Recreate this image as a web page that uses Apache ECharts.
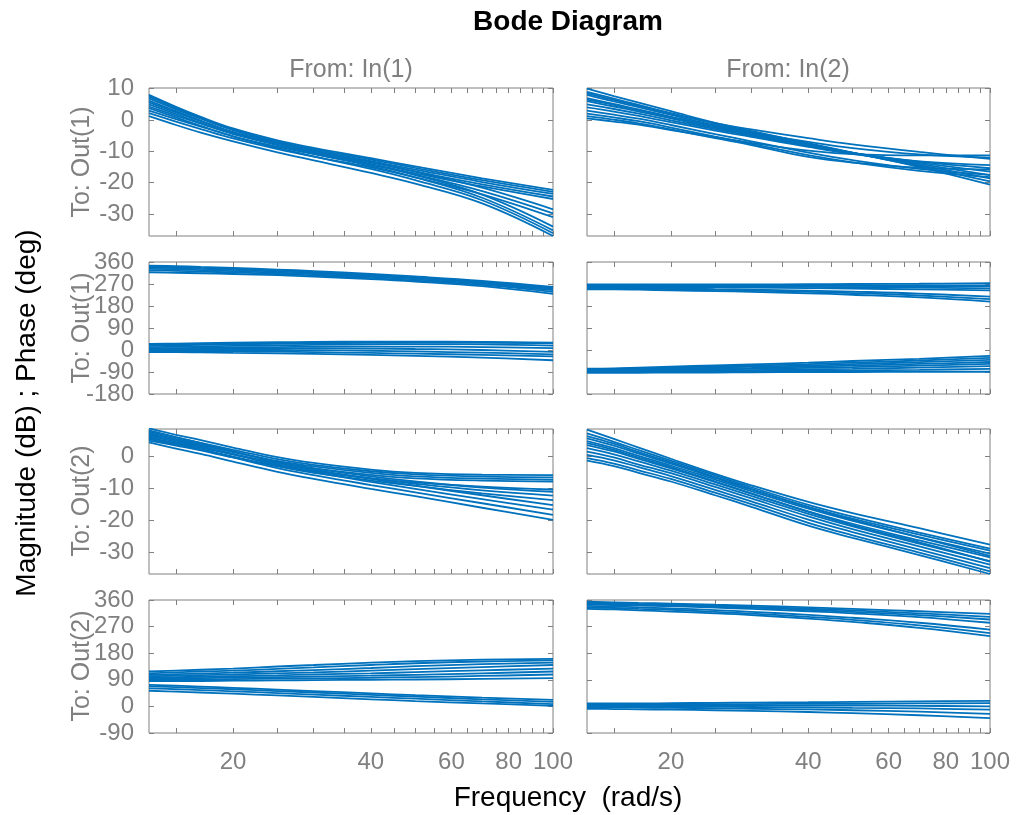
<!DOCTYPE html>
<html><head><meta charset="utf-8">
<script src="https://cdn.jsdelivr.net/npm/echarts@6/dist/echarts.min.js"></script>
<style>html,body{margin:0;padding:0;background:#fff}#c{width:1016px;height:815px}</style>
</head><body><div id="c"></div><script>
// ---------------- data ----------------
const FREQ = [13.1, 15, 17, 20, 25, 30, 40, 50, 70, 100];          // rad/s
const X_MIN = 13.1, X_MAX = 100;
const X_TICKS = [15,20,25,30,35,40,45,50,55,60,65,70,75,80,85,90,95,100];
const X_LABELS = [20, 40, 60, 80, 100];
const MAG_TICKS_OUT1 = [10, 0, -10, -20, -30];
const MAG_TICKS_OUT2 = [0, -10, -20, -30];
const PH_TICKS_OUT1 = [360, 270, 180, 90, 0, -90, -180];
const PH_TICKS_OUT2 = [360, 270, 180, 90, 0, -90];

// Out(1) <- In(1), magnitude (dB)
const magOut1In1 = [
  [8.0, 4.2, 1.0, -2.7, -6.5, -8.9, -12.2, -14.8, -18.6, -22.3],
  [6.9, 3.4, 0.4, -3.2, -6.9, -9.3, -12.6, -15.3, -19.2, -22.9],
  [5.6, 2.4, -0.4, -3.9, -7.4, -9.8, -13.1, -15.8, -19.8, -23.6],
  [4.3, 1.4, -1.2, -4.5, -7.9, -10.3, -13.6, -16.4, -20.5, -24.4],
  [3.0, 0.3, -2.1, -5.2, -8.5, -10.9, -14.2, -17.0, -21.2, -25.2],
  [7.4, 3.8, 0.6, -3.1, -7.1, -9.7, -13.3, -16.5, -21.6, -28.5],
  [5.0, 1.9, -0.9, -4.3, -8.0, -10.6, -14.2, -17.4, -22.7, -29.8],
  [2.2, -0.5, -2.9, -5.9, -9.3, -11.7, -15.1, -18.3, -23.7, -31.0],
  [7.8, 4.0, 0.7, -3.1, -7.3, -10.1, -14.1, -17.6, -23.8, -34.0],
  [6.2, 2.8, -0.2, -3.9, -7.9, -10.7, -14.7, -18.3, -24.8, -35.2],
  [3.8, 0.8, -1.9, -5.2, -8.9, -11.6, -15.6, -19.2, -25.6, -36.1],
  [1.2, -1.6, -4.0, -6.8, -10.3, -12.9, -16.9, -20.3, -26.6, -37.0]
];
// Out(1) <- In(2), magnitude (dB)
const magOut1In2 = [
  [10.0, 7.6, 5.5, 2.8, -0.9, -3.5, -7.4, -10.4, -15.0, -20.6],
  [9.0, 6.8, 4.8, 2.2, -1.3, -3.8, -7.6, -10.5, -14.7, -19.6],
  [8.0, 5.9, 4.1, 1.6, -1.7, -4.1, -7.8, -10.5, -14.4, -18.6],
  [7.0, 5.1, 3.4, 1.0, -2.1, -4.4, -7.9, -10.5, -14.0, -17.6],
  [6.0, 4.3, 2.7, 0.5, -2.5, -4.7, -8.1, -10.5, -13.6, -16.5],
  [5.0, 3.5, 2.0, -0.1, -2.9, -5.0, -8.3, -10.6, -13.3, -15.4],
  [4.0, 2.7, 1.3, -0.7, -3.4, -5.4, -8.6, -10.8, -13.2, -14.4],
  [3.0, 1.7, 0.4, -1.6, -4.5, -6.8, -10.4, -12.8, -15.6, -17.5],
  [2.0, 0.8, -0.4, -2.4, -5.3, -7.6, -11.2, -13.5, -16.2, -18.2],
  [1.2, 0.1, -1.1, -3.0, -5.8, -8.0, -11.8, -13.6, -15.2, -15.8],
  [0.5, -0.5, -1.5, -3.2, -5.5, -7.3, -9.8, -10.9, -11.3, -11.3],
  [8.5, 6.4, 4.5, 2.0, -1.0, -3.0, -5.8, -7.8, -10.2, -12.4],
  [6.5, 4.8, 3.1, 0.9, -2.0, -4.0, -7.0, -9.0, -11.0, -12.0]
];
// Out(1) <- In(1), phase (deg)
const phOut1In1 = [
  [345, 343, 340, 336, 329, 323, 311, 301, 283, 258],
  [341, 339, 336, 332, 325, 319, 307, 297, 279, 254],
  [337, 335, 332, 328, 321, 315, 303, 293, 276, 250],
  [332, 330, 327, 323, 316, 310, 299, 289, 271, 245],
  [326, 324, 321, 317, 311, 305, 294, 284, 266, 238],
  [318, 316, 314, 311, 306, 300, 290, 280, 261, 230],
  [25, 26, 28, 30, 32, 33, 34, 34, 33, 30],
  [21, 22, 24, 26, 28, 30, 32, 32, 31, 27],
  [18, 19, 21, 23, 25, 27, 29, 30, 30, 28],
  [12, 13, 15, 17, 19, 21, 23, 24, 23, 18],
  [8, 8, 9, 11, 12, 13, 14, 14, 12, 8],
  [4, 4, 5, 6, 7, 7, 6, 4, 0, -8],
  [0, 0, 0, 0, 0, -1, -3, -6, -11, -18],
  [-5, -5, -5, -6, -7, -9, -12, -15, -20, -26],
  [-9, -9, -10, -12, -14, -16, -20, -24, -31, -42]
];
// Out(1) <- In(2), phase (deg)
const phOut1In2 = [
  [268, 268, 268, 268, 268, 268, 269, 270, 271, 273],
  [265, 265, 265, 265, 264, 264, 264, 264, 264, 264],
  [263, 263, 263, 263, 262, 262, 262, 262, 261, 260],
  [262, 262, 262, 261, 260, 259, 258, 257, 255, 252],
  [258, 258, 258, 257, 256, 255, 253, 251, 248, 244],
  [255, 255, 254, 252, 249, 247, 243, 239, 231, 218],
  [252, 252, 251, 249, 246, 243, 238, 233, 223, 208],
  [248, 248, 247, 244, 241, 238, 232, 226, 215, 198],
  [-76, -75, -72, -68, -63, -59, -52, -45, -36, -24],
  [-78, -77, -75, -72, -67, -64, -58, -52, -43, -32],
  [-80, -79, -77, -75, -71, -68, -63, -58, -50, -40],
  [-82, -81, -80, -78, -75, -73, -68, -64, -57, -49],
  [-84, -83, -82, -81, -79, -77, -73, -70, -64, -57],
  [-87, -86, -86, -85, -83, -82, -79, -77, -72, -66],
  [-90, -89, -89, -88, -88, -87, -85, -84, -81, -77],
  [-93, -93, -93, -92, -92, -91, -90, -90, -89, -89]
];
// Out(2) <- In(1), magnitude (dB)
const magOut2In1 = [
  [8.6, 6.6, 4.9, 2.6, -0.4, -2.2, -4.3, -5.3, -5.9, -6.0],
  [7.6, 5.8, 4.1, 1.9, -1.0, -2.8, -4.8, -5.8, -6.5, -6.7],
  [6.6, 4.9, 3.3, 1.2, -1.6, -3.3, -5.3, -6.4, -7.1, -7.4],
  [5.6, 4.0, 2.5, 0.5, -2.2, -3.9, -5.9, -7.0, -7.7, -8.0],
  [4.8, 3.2, 1.7, -0.5, -3.1, -4.9, -7.0, -8.3, -9.6, -10.5],
  [7.2, 5.3, 3.6, 1.3, -1.9, -3.9, -6.4, -8.0, -9.9, -11.2],
  [6.2, 4.4, 2.8, 0.6, -2.6, -4.6, -7.0, -8.7, -10.8, -12.4],
  [5.2, 3.5, 2.0, -0.2, -3.3, -5.3, -7.7, -9.4, -11.7, -13.8],
  [8.0, 5.9, 4.0, 1.5, -2.0, -4.3, -7.2, -9.3, -12.3, -15.4],
  [6.8, 4.8, 2.9, 0.5, -2.9, -5.1, -8.1, -10.3, -13.5, -16.8],
  [5.8, 3.8, 2.0, -0.5, -3.8, -6.0, -9.1, -11.4, -14.8, -18.4],
  [4.2, 2.3, 0.6, -1.8, -5.0, -7.2, -10.3, -12.6, -16.2, -20.0]
];
// Out(2) <- In(2), magnitude (dB)
const magOut2In2 = [
  [8.2, 5.3, 2.6, -0.9, -5.6, -9.2, -14.4, -17.9, -22.6, -27.7],
  [7.0, 4.4, 1.8, -1.5, -6.1, -9.8, -15.3, -19.0, -24.0, -29.0],
  [6.2, 3.8, 1.2, -2.0, -6.6, -10.3, -16.0, -20.0, -25.5, -31.2],
  [5.5, 3.2, 0.7, -2.4, -6.9, -10.5, -15.9, -19.6, -24.6, -29.6],
  [4.6, 2.4, 0.0, -3.0, -7.4, -11.0, -16.5, -20.3, -25.4, -30.5],
  [4.0, 1.9, -0.5, -3.5, -8.0, -11.7, -17.5, -21.6, -27.0, -33.0],
  [3.4, 1.4, -0.9, -3.9, -8.2, -11.8, -17.3, -21.2, -26.4, -31.7],
  [2.4, 0.5, -1.7, -4.6, -8.9, -12.5, -18.1, -22.0, -27.4, -32.9],
  [1.3, -0.5, -2.7, -5.4, -9.7, -13.3, -18.9, -22.9, -28.3, -34.0],
  [0.3, -1.4, -3.5, -6.3, -10.6, -14.2, -19.9, -23.8, -29.3, -35.1],
  [-0.7, -2.4, -4.5, -7.2, -11.5, -15.1, -20.9, -24.8, -30.2, -36.1],
  [-1.5, -3.2, -5.3, -8.0, -12.3, -15.9, -21.8, -25.6, -31.0, -36.9]
];
// Out(2) <- In(1), phase (deg)
const phOut2In1 = [
  [118, 121, 124, 128, 135, 140, 148, 153, 158, 161],
  [112, 115, 118, 121, 127, 132, 140, 146, 152, 156],
  [107, 109, 111, 114, 119, 123, 130, 136, 143, 148],
  [102, 104, 106, 108, 112, 115, 121, 126, 133, 140],
  [98, 99, 100, 102, 105, 108, 112, 116, 122, 128],
  [94, 95, 96, 97, 99, 101, 104, 107, 112, 118],
  [90, 91, 91, 92, 94, 95, 97, 99, 103, 108],
  [86, 86, 86, 87, 88, 89, 90, 91, 93, 96],
  [73, 70, 67, 63, 57, 52, 44, 38, 30, 22],
  [68, 65, 62, 58, 52, 47, 39, 33, 24, 15],
  [61, 58, 55, 51, 45, 40, 32, 26, 17, 8],
  [53, 50, 47, 43, 37, 32, 24, 18, 10, 2]
];
// Out(2) <- In(2), phase (deg)
const phOut2In2 = [
  [354, 352, 350, 348, 344, 341, 335, 330, 322, 313],
  [351, 349, 347, 345, 341, 337, 331, 325, 315, 303],
  [348, 346, 344, 342, 338, 334, 327, 320, 309, 294],
  [345, 343, 341, 339, 334, 330, 322, 315, 302, 283],
  [340, 338, 335, 332, 326, 320, 310, 300, 283, 260],
  [335, 333, 330, 327, 320, 314, 303, 293, 274, 248],
  [330, 328, 325, 321, 315, 309, 297, 286, 266, 238],
  [10, 10, 10, 11, 12, 13, 14, 15, 17, 19],
  [7, 7, 7, 8, 8, 8, 9, 9, 10, 11],
  [4, 4, 4, 4, 4, 4, 3, 3, 2, 0],
  [1, 1, 1, 0, -1, -2, -3, -5, -7, -11],
  [-3, -3, -4, -5, -6, -8, -10, -13, -18, -25],
  [-8, -9, -10, -11, -13, -15, -19, -23, -30, -40]
];

// ---------------- layout ----------------
const COL_LEFT = [149, 587], COL_W = [404, 403];
const ROW_TOP = [88, 262, 429, 600], ROW_H = [148, 132, 145, 133];
const panels = [
  {row:0, col:0, lines:magOut1In1, ymin:-37,   ymax:10.2, yticks:MAG_TICKS_OUT1},
  {row:0, col:1, lines:magOut1In2, ymin:-37,   ymax:10.2, yticks:MAG_TICKS_OUT1},
  {row:1, col:0, lines:phOut1In1,  ymin:-180,  ymax:360,  yticks:PH_TICKS_OUT1},
  {row:1, col:1, lines:phOut1In2,  ymin:-180,  ymax:360,  yticks:PH_TICKS_OUT1},
  {row:2, col:0, lines:magOut2In1, ymin:-36.9, ymax:8.4,  yticks:MAG_TICKS_OUT2},
  {row:2, col:1, lines:magOut2In2, ymin:-36.9, ymax:8.4,  yticks:MAG_TICKS_OUT2},
  {row:3, col:0, lines:phOut2In1,  ymin:-90,   ymax:360,  yticks:PH_TICKS_OUT2},
  {row:3, col:1, lines:phOut2In2,  ymin:-90,   ymax:360,  yticks:PH_TICKS_OUT2}
];

const GRAY = '#808080';
const BLUE = '#0072BD';
const FONT = '"Liberation Sans", Arial, Helvetica, sans-serif';
const TICK_FS = 24;
const lg = v => Math.log10(v);

const grid = [], xAxis = [], yAxis = [], series = [];
const yLabelStyle = {color: GRAY, fontSize: TICK_FS, fontFamily: FONT, margin: 15,
  showMinLabel: true, showMaxLabel: true, hideOverlap: false};

panels.forEach((p, i) => {
  grid.push({left: COL_LEFT[p.col], top: ROW_TOP[p.row], width: COL_W[p.col], height: ROW_H[p.row],
    show: true, borderColor: GRAY, borderWidth: 1, backgroundColor: 'rgba(0,0,0,0)'});
  const xIdx = xAxis.length;
  ['bottom', 'top'].forEach((pos, k) => {
    xAxis.push({gridIndex: i, type: 'value', position: pos, min: lg(X_MIN), max: lg(X_MAX),
      axisLine: {show: false, onZero: false}, splitLine: {show: false},
      axisTick: {show: true, inside: true, length: 5, customValues: X_TICKS.map(v => lg(v)),
        lineStyle: {color: GRAY, width: 1}},
      axisLabel: {show: k === 0 && p.row === 3, customValues: X_LABELS.map(v => lg(v)),
        formatter: v => String(Math.round(Math.pow(10, v))),
        showMinLabel: true, showMaxLabel: true, hideOverlap: false,
        color: GRAY, fontSize: TICK_FS, fontFamily: FONT, margin: 17}
    });
  });
  const yIdx = yAxis.length;
  const evenTicks = p.yticks.filter((v, j) => j % 2 === 0);
  const oddTicks = p.yticks.filter((v, j) => j % 2 === 1);
  ['left', 'right'].forEach((pos, k) => {
    yAxis.push({gridIndex: i, type: 'value', position: pos, min: p.ymin, max: p.ymax,
      axisLine: {show: false, onZero: false}, splitLine: {show: false},
      axisTick: {show: true, inside: true, length: 5, customValues: p.yticks,
        lineStyle: {color: GRAY, width: 1}},
      axisLabel: Object.assign({show: k === 0 && p.col === 0, customValues: evenTicks}, yLabelStyle)
    });
  });
  if (p.col === 0) {
    // second label layer (alternate ticks) so tightly packed labels are all kept
    yAxis.push({gridIndex: i, type: 'value', position: 'left', offset: 0, min: p.ymin, max: p.ymax,
      axisLine: {show: false, onZero: false}, splitLine: {show: false}, axisTick: {show: false},
      axisLabel: Object.assign({show: true, customValues: oddTicks}, yLabelStyle)
    });
  }
  p.lines.forEach(vals => {
    series.push({type: 'line', xAxisIndex: xIdx, yAxisIndex: yIdx,
      data: FREQ.map((f, j) => [lg(f), vals[j]]),
      showSymbol: false, smooth: 0.4, silent: true, clip: true,
      lineStyle: {color: BLUE, width: 1.8}});
  });
});

const txt = (text, x, y, size, color, rot, bold) => ({
  type: 'text', x: x, y: y, rotation: rot || 0, silent: true,
  style: {text: text, fill: color, align: 'center', verticalAlign: 'middle',
    font: (bold ? 'bold ' : '') + size + 'px ' + FONT}
});

const graphic = [
  txt('Bode Diagram', 568, 22, 28, '#000', 0, true),
  txt('From: In(1)', 351, 70, 25, GRAY),
  txt('From: In(2)', 788, 70, 25, GRAY),
  txt('To: Out(1)', 82, 162, 25, GRAY, Math.PI / 2),
  txt('To: Out(1)', 82, 328, 25, GRAY, Math.PI / 2),
  txt('To: Out(2)', 82, 501, 25, GRAY, Math.PI / 2),
  txt('To: Out(2)', 82, 666, 25, GRAY, Math.PI / 2),
  txt('Magnitude (dB) ; Phase (deg)', 27, 413, 28, '#000', Math.PI / 2),
  txt('Frequency  (rad/s)', 568, 798, 28, '#000')
];

const chart = echarts.init(document.getElementById('c'), null, {renderer: 'canvas'});
chart.setOption({animation: false, backgroundColor: '#fff', grid, xAxis, yAxis, series, graphic});
</script></body></html>
